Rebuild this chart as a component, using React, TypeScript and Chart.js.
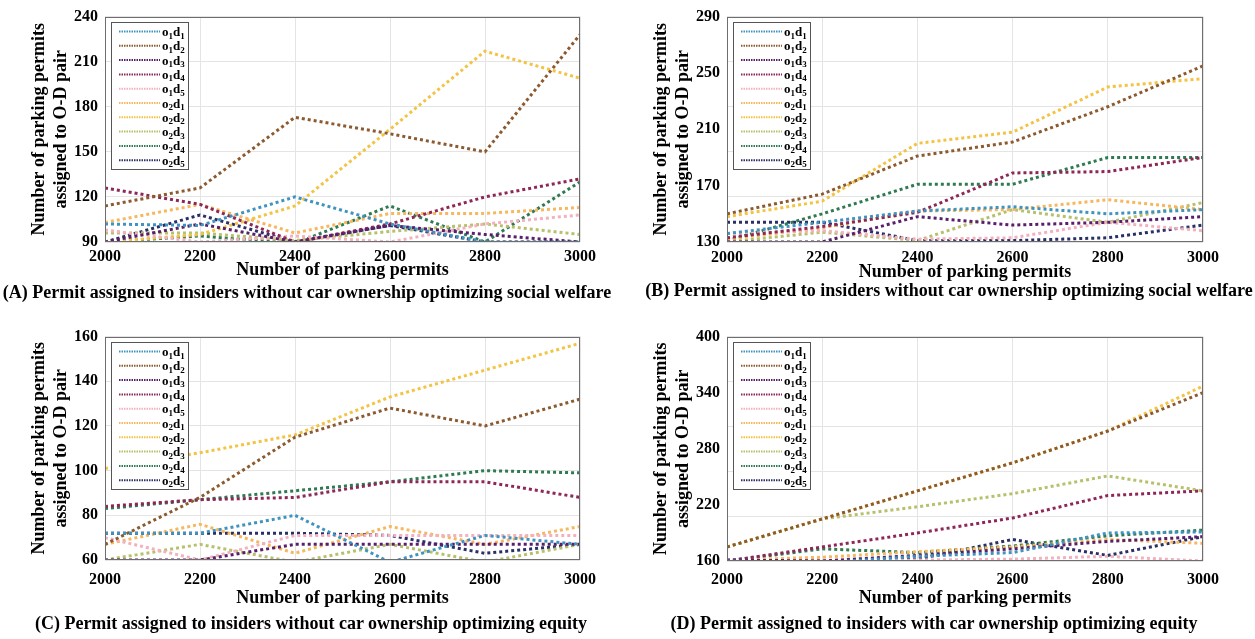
import React, { useEffect, useRef } from "react";
import { Chart, registerables } from "chart.js";

Chart.register(...registerables);

// ---------------- DATA ----------------
const permits = [2000, 2200, 2400, 2600, 2800, 3000];
const odPairs = ["o1d1", "o1d2", "o1d3", "o1d4", "o1d5", "o2d1", "o2d2", "o2d3", "o2d4", "o2d5"];

// (A) rows follow odPairs order, columns follow permits
const panelA = [
  [102, 101, 120, 102, 90, 90],
  [114, 126, 173, 162, 150, 228],
  [90, 102, 90, 101, 95, 90],
  [126, 115, 90, 102, 120, 132],
  [98, 90, 94, 90, 102, 108],
  [103, 115, 96, 109, 109, 113],
  [90, 95, 114, 165, 217, 199],
  [96, 96, 91, 97, 102, 95],
  [90, 94, 89, 114, 90, 130],
  [90, 108, 90, 101, 90, 90],
];
const panelB = [
  [136, 144, 152, 155, 150, 153],
  [150, 164, 191, 201, 226, 255],
  [130, 130, 148, 142, 144, 148],
  [133, 141, 151, 179, 180, 190],
  [136, 138, 132, 133, 144, 138],
  [132, 140, 152, 153, 160, 153],
  [148, 159, 200, 208, 240, 246],
  [130, 137, 131, 153, 144, 158],
  [131, 150, 171, 171, 190, 190],
  [144, 144, 131, 131, 133, 142],
];
const panelC = [
  [72, 72, 80, 59, 71, 67],
  [67, 88, 115, 128, 120, 132],
  [60, 60, 67, 67, 67, 67],
  [84, 87, 88, 95, 95, 88],
  [70, 60, 71, 71, 71, 71],
  [67, 76, 63, 75, 67, 75],
  [101, 108, 116, 133, 145, 157],
  [60, 67, 59, 67, 59, 67],
  [83, 87, 91, 95, 100, 99],
  [72, 72, 72, 71, 63, 67],
];
const panelD = [
  [160, 158, 165, 169, 190, 191],
  [175, 205, 235, 265, 299, 340],
  [161, 160, 166, 173, 181, 186],
  [160, 175, 190, 206, 230, 235],
  [160, 160, 161, 162, 165, 160],
  [161, 164, 170, 175, 183, 179],
  [175, 205, 235, 265, 299, 347],
  [175, 205, 218, 232, 251, 235],
  [160, 173, 169, 176, 187, 193],
  [160, 160, 162, 183, 166, 186],
];

const gridA = [90, 120, 150, 180, 210, 240];
const labelsA = [90, 120, 150, 180, 210, 240];
const gridB = [130, 162, 194, 226, 258, 290];
const labelsB = [130, 170, 210, 250, 290];
const gridC = [60, 80, 100, 120, 140, 160];
const labelsC = [60, 80, 100, 120, 140, 160];
const gridD = [160, 208, 256, 304, 352, 400];
const labelsD = [160, 220, 280, 340, 400];

const captionA = "(A) Permit assigned to insiders without car ownership optimizing social welfare";
const captionB = "(B) Permit assigned to insiders without car ownership optimizing social welfare";
const captionC = "(C) Permit assigned to insiders without car ownership optimizing equity";
const captionD = "(D) Permit assigned to insiders with car ownership optimizing equity";

const xTitle = "Number of parking permits";
const yTitle = ["Number of parking permits", "assigned to O-D pair"];

// ---------------- STYLE ----------------
const COLORS = [
  "#3f94bf", "#8c5a2e", "#5a1f6b", "#8e2757", "#f3b1bf",
  "#f6b75e", "#f3c343", "#b7c06b", "#2f7a52", "#2a2f66",
];
const FONT = "'Liberation Serif', 'Times New Roman', serif";
const GRID = "#e4e4e4";

type Panel = {
  series: number[][];
  grid: number[];
  labels: number[];
  caption: string;
  left: number; top: number; w: number; h: number;
  yW: number; padT: number; padR: number; xH: number;
  tickPad: number; xTitlePad: number; yTitlePad: number;
  capX: number; capY: number;
};

const panels: Panel[] = [
  { series: panelA, grid: gridA, labels: labelsA, caption: captionA,
    left: 0, top: 0, w: 620, h: 285, yW: 105, padT: 13, padR: 40, xH: 43,
    tickPad: 5, xTitlePad: 4, yTitlePad: 28, capX: 307, capY: 292 },
  { series: panelB, grid: gridB, labels: labelsB, caption: captionB,
    left: 620, top: 0, w: 635, h: 285, yW: 107, padT: 13, padR: 52, xH: 43,
    tickPad: 6, xTitlePad: 2, yTitlePad: 30, capX: 949, capY: 290 },
  { series: panelC, grid: gridC, labels: labelsC, caption: captionC,
    left: 0, top: 320, w: 620, h: 295, yW: 105, padT: 13, padR: 40, xH: 55,
    tickPad: 10, xTitlePad: 6, yTitlePad: 28, capX: 311, capY: 623 },
  { series: panelD, grid: gridD, labels: labelsD, caption: captionD,
    left: 620, top: 320, w: 635, h: 295, yW: 107, padT: 13, padR: 52, xH: 54,
    tickPad: 9, xTitlePad: 6, yTitlePad: 30, capX: 934, capY: 623 },
];

function drawSubLabel(ctx: CanvasRenderingContext2D, text: string, x: number, y: number) {
  let cx = x;
  ctx.textAlign = "left";
  ctx.textBaseline = "alphabetic";
  ctx.fillStyle = "#000";
  for (const ch of text) {
    if (/[0-9]/.test(ch)) {
      ctx.font = `bold 9px ${FONT}`;
      ctx.fillText(ch, cx, y + 7);
    } else {
      ctx.font = `bold 13px ${FONT}`;
      ctx.fillText(ch, cx, y + 4.5);
    }
    cx += ctx.measureText(ch).width;
  }
}

const boxLegendPlugin = {
  id: "boxLegend",
  afterDatasetsDraw(chart: any) {
    const { ctx, chartArea } = chart;
    const { left, top, right, bottom } = chartArea;
    ctx.save();
    ctx.setLineDash([]);
    ctx.strokeStyle = "#6e6e6e";
    ctx.lineWidth = 1;
    ctx.strokeRect(Math.round(left) + 0.5, Math.round(top) + 0.5, Math.round(right - left) - 1, Math.round(bottom - top) - 1);

    const bx = Math.round(left) + 6;
    const by = Math.round(top) + 5;
    const bw = 77;
    const bh = 147;
    ctx.fillStyle = "#ffffff";
    ctx.fillRect(bx, by, bw, bh);
    ctx.strokeStyle = "#555555";
    ctx.strokeRect(bx + 0.5, by + 0.5, bw, bh);
    chart.data.datasets.forEach((ds: any, i: number) => {
      const y = by + 9.5 + i * 14.3;
      ctx.save();
      ctx.setLineDash([1.5, 1]);
      ctx.lineWidth = 2;
      ctx.strokeStyle = ds.borderColor;
      ctx.beginPath();
      ctx.moveTo(bx + 8, y);
      ctx.lineTo(bx + 49, y);
      ctx.stroke();
      ctx.restore();
      drawSubLabel(ctx, ds.label, bx + 51, y);
    });
    ctx.restore();
  },
};

function PanelChart({ p }: { p: Panel }) {
  const ref = useRef<HTMLCanvasElement | null>(null);
  useEffect(() => {
    if (!ref.current) return;
    const allY = Array.from(new Set([...p.grid, ...p.labels])).sort((a, b) => a - b);
    const chart = new Chart(ref.current, {
      type: "line",
      data: {
        datasets: odPairs.map((name, i) => ({
          label: name,
          data: permits.map((x, j) => ({ x, y: p.series[i][j] })),
          borderColor: COLORS[i],
          backgroundColor: COLORS[i],
          borderWidth: 3,
          borderDash: [3, 3],
          pointRadius: 0,
          tension: 0,
          fill: false,
        })),
      },
      options: {
        animation: false,
        responsive: false,
        devicePixelRatio: 1,
        layout: { autoPadding: false, padding: { left: 0, top: p.padT, right: p.padR, bottom: 0 } },
        plugins: { legend: { display: false }, tooltip: { enabled: false } },
        scales: {
          x: {
            type: "linear",
            min: permits[0],
            max: permits[permits.length - 1],
            afterBuildTicks: (s: any) => { s.ticks = permits.map((v) => ({ value: v })); },
            afterFit: (s: any) => { s.height = p.xH; },
            grid: { color: GRID, drawTicks: false },
            border: { display: false },
            ticks: {
              autoSkip: false, maxRotation: 0, padding: p.tickPad, color: "#000",
              font: { family: FONT, size: 16, weight: "bold" },
              callback: (v: any) => String(v),
            },
            title: {
              display: true, text: xTitle, color: "#000",
              font: { family: FONT, size: 18, weight: "bold", lineHeight: 1.22 },
              padding: { top: 0, bottom: p.xTitlePad },
            },
          },
          y: {
            type: "linear",
            min: p.grid[0],
            max: p.grid[p.grid.length - 1],
            afterBuildTicks: (s: any) => { s.ticks = allY.map((v) => ({ value: v })); },
            afterFit: (s: any) => { s.width = p.yW; },
            grid: {
              drawTicks: false,
              color: (c: any) => (c.tick && p.grid.includes(c.tick.value) ? GRID : "rgba(0,0,0,0)"),
            },
            border: { display: false },
            ticks: {
              autoSkip: false, padding: 7, color: "#000",
              font: { family: FONT, size: 16, weight: "bold" },
              callback: (v: any) => (p.labels.includes(Number(v)) ? String(v) : ""),
            },
            title: {
              display: true, text: yTitle, color: "#000",
              font: { family: FONT, size: 18, weight: "bold", lineHeight: 1.22 },
              padding: { top: p.yTitlePad, bottom: 0 },
            },
          },
        },
      } as any,
      plugins: [boxLegendPlugin as any],
    });
    return () => chart.destroy();
  }, [p]);
  return (
    <canvas
      ref={ref}
      width={p.w}
      height={p.h}
      style={{ position: "absolute", left: p.left, top: p.top, width: p.w, height: p.h }}
    />
  );
}

export default function App() {
  return (
    <div style={{ position: "absolute", left: 0, top: 0, width: 1255, height: 639, background: "#fff", overflow: "hidden" }}>
      {panels.map((p, i) => (
        <React.Fragment key={i}>
          <PanelChart p={p} />
          <div
            style={{
              position: "absolute",
              left: p.capX - 330,
              top: p.capY - 11,
              width: 660,
              textAlign: "center",
              font: `bold 18px ${FONT}`,
              lineHeight: "22px",
              color: "#000",
              whiteSpace: "nowrap",
            }}
          >
            {p.caption}
          </div>
        </React.Fragment>
      ))}
    </div>
  );
}
